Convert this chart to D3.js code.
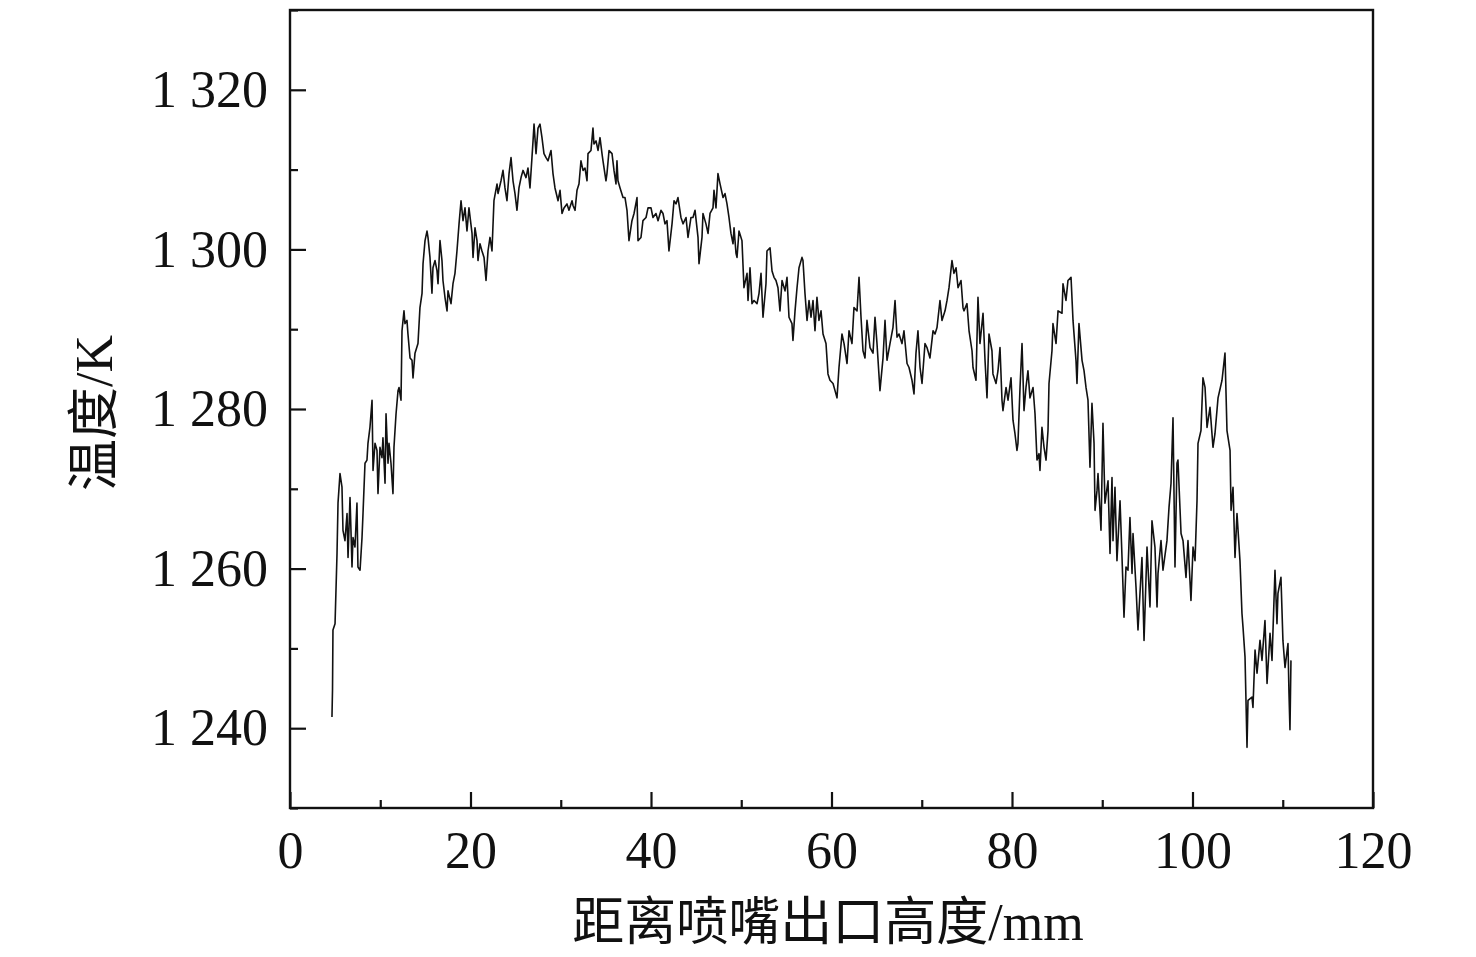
<!DOCTYPE html>
<html>
<head>
<meta charset="utf-8">
<script src="https://cdn.jsdelivr.net/npm/d3@7"></script>
<style>
  body { margin: 0; background: #fff; }
  svg { display: block; }
</style>
</head>
<body>
<svg id="chart"></svg>
<script>
// distance from nozzle exit (mm)
var dist = [
  4.65, 4.71, 4.76, 4.99, 5.21, 5.32, 5.54, 5.76, 5.87, 6.09, 6.32, 6.43, 6.65, 6.87, 6.98, 7.20, 7.42, 7.53, 7.76, 7.98,
  8.09, 8.31, 8.53, 8.64, 8.86, 9.09, 9.20, 9.42, 9.64, 9.75, 9.97, 10.19, 10.30, 10.53, 10.64, 10.86, 10.97, 11.19, 11.41, 11.52,
  11.75, 11.97, 12.08, 12.30, 12.41, 12.63, 12.74, 12.96, 13.07, 13.30, 13.52, 13.63, 13.85, 14.18, 14.40, 14.63, 14.74, 14.96, 15.18, 15.29,
  15.51, 15.73, 15.84, 16.07, 16.29, 16.40, 16.62, 16.84, 16.95, 17.17, 17.40, 17.51, 17.84, 18.06, 18.28, 18.50, 18.73, 18.95, 19.17, 19.39,
  19.61, 19.83, 20.17, 20.28, 20.50, 20.72, 20.83, 21.05, 21.27, 21.50, 21.72, 21.94, 22.16, 22.38, 22.60, 22.94, 23.05, 23.38, 23.60, 23.82,
  24.04, 24.27, 24.49, 24.71, 24.93, 25.15, 25.37, 25.60, 25.82, 26.15, 26.37, 26.59, 26.81, 26.93, 27.04, 27.26, 27.48, 27.70, 27.92, 28.14,
  28.37, 28.59, 28.92, 29.14, 29.36, 29.70, 29.92, 30.14, 30.36, 30.69, 30.91, 31.25, 31.36, 31.58, 31.80, 32.02, 32.24, 32.47, 32.69, 32.91,
  33.02, 33.35, 33.57, 33.68, 33.91, 34.13, 34.35, 34.57, 34.68, 35.01, 35.12, 35.35, 35.68, 35.90, 36.12, 36.23, 36.34, 36.57, 36.90, 37.12,
  37.34, 37.56, 37.89, 38.12, 38.45, 38.56, 38.89, 39.11, 39.45, 39.67, 40.00, 40.22, 40.55, 40.78, 41.11, 41.33, 41.55, 41.77, 41.99, 42.33,
  42.55, 42.77, 42.99, 43.32, 43.55, 43.88, 44.10, 44.43, 44.65, 44.88, 45.21, 45.32, 45.65, 45.76, 46.09, 46.32, 46.54, 46.87, 46.98, 47.20,
  47.42, 47.65, 47.98, 48.20, 48.42, 48.64, 48.86, 49.09, 49.20, 49.42, 49.53, 49.75, 50.08, 50.30, 50.64, 50.75, 50.97, 51.19, 51.41, 51.75,
  51.97, 52.19, 52.41, 52.74, 52.85, 53.19, 53.41, 53.63, 53.85, 54.07, 54.29, 54.52, 54.85, 55.07, 55.29, 55.62, 55.73, 55.96, 56.18, 56.40,
  56.73, 56.84, 57.06, 57.29, 57.51, 57.73, 57.95, 58.17, 58.39, 58.61, 58.84, 59.06, 59.39, 59.61, 59.83, 60.17, 60.39, 60.61, 60.83, 61.16,
  61.39, 61.72, 61.94, 62.27, 62.49, 62.83, 63.05, 63.27, 63.49, 63.71, 63.93, 64.27, 64.60, 64.82, 65.04, 65.37, 65.71, 65.93, 66.15, 66.48,
  66.81, 67.04, 67.26, 67.48, 67.81, 68.03, 68.37, 68.59, 68.92, 69.14, 69.36, 69.58, 69.81, 70.03, 70.36, 70.58, 70.91, 71.25, 71.47, 71.69,
  72.02, 72.24, 72.58, 72.80, 73.02, 73.35, 73.57, 73.80, 74.02, 74.35, 74.57, 74.68, 75.01, 75.24, 75.57, 75.68, 76.01, 76.23, 76.45, 76.79,
  77.01, 77.23, 77.45, 77.78, 77.89, 78.23, 78.45, 78.67, 78.89, 79.00, 79.34, 79.56, 79.89, 80.11, 80.33, 80.55, 80.66, 80.89, 81.11, 81.33,
  81.55, 81.77, 81.99, 82.33, 82.55, 82.77, 82.99, 83.10, 83.32, 83.55, 83.77, 83.99, 84.10, 84.43, 84.54, 84.88, 85.10, 85.54, 85.65, 85.98,
  86.20, 86.54, 86.76, 87.09, 87.20, 87.42, 87.76, 87.98, 88.20, 88.42, 88.64, 88.86, 89.09, 89.20, 89.42, 89.53, 89.86, 90.08, 90.30, 90.64,
  90.86, 91.08, 91.19, 91.41, 91.63, 91.97, 92.19, 92.41, 92.63, 92.85, 93.07, 93.30, 93.41, 93.74, 93.96, 94.18, 94.40, 94.63, 94.96, 95.29,
  95.51, 95.84, 96.07, 96.18, 96.51, 96.73, 97.17, 97.40, 97.62, 97.84, 98.06, 98.28, 98.39, 98.73, 98.95, 99.28, 99.50, 99.83, 100.06, 100.28,
  100.50, 100.61, 100.94, 101.16, 101.39, 101.61, 101.94, 102.27, 102.49, 102.83, 103.27, 103.60, 103.82, 104.16, 104.27, 104.49, 104.71, 104.93, 105.26, 105.48,
  105.60, 105.82, 106.04, 106.15, 106.59, 106.70, 106.93, 107.15, 107.48, 107.70, 108.03, 108.26, 108.59, 108.81, 109.14, 109.36, 109.47, 109.80, 110.02, 110.25,
  110.58, 110.69, 110.80, 110.91
];

// temperature (K)
var temp = [
  1241.4, 1244.8, 1252.3, 1253.1, 1261.9, 1268.2, 1271.9, 1270.2, 1264.8, 1263.5, 1266.9, 1261.4, 1268.9, 1260.2, 1263.9, 1262.7, 1268.2, 1260.2, 1259.8, 1263.9,
  1266.9, 1273.2, 1273.6, 1275.7, 1277.7, 1281.1, 1272.3, 1275.7, 1274.8, 1269.4, 1275.2, 1273.9, 1276.4, 1270.7, 1279.4, 1273.2, 1275.7, 1273.2, 1269.4, 1275.2,
  1279.4, 1282.3, 1282.7, 1281.1, 1289.8, 1292.3, 1290.7, 1291.1, 1289.4, 1286.4, 1286.1, 1283.9, 1287.0, 1288.2, 1292.7, 1294.5, 1298.2, 1301.1, 1302.3, 1301.5,
  1299.0, 1294.5, 1297.7, 1298.6, 1297.3, 1295.7, 1301.1, 1298.6, 1296.1, 1294.0, 1292.3, 1294.8, 1293.2, 1295.7, 1297.0, 1299.8, 1303.2, 1306.1, 1303.6, 1305.2,
  1302.3, 1305.2, 1302.0, 1299.0, 1302.7, 1301.1, 1298.6, 1300.7, 1299.8, 1299.0, 1296.1, 1299.8, 1301.5, 1299.8, 1306.1, 1308.2, 1307.0, 1308.6, 1309.9, 1307.7,
  1306.1, 1309.5, 1311.5, 1308.6, 1307.0, 1304.9, 1307.7, 1309.0, 1309.9, 1309.0, 1310.2, 1307.7, 1311.5, 1313.6, 1315.7, 1312.0, 1315.2, 1315.7, 1314.0, 1312.0,
  1311.5, 1311.1, 1312.4, 1309.5, 1307.7, 1306.1, 1307.4, 1304.5, 1305.2, 1305.7, 1304.9, 1306.1, 1305.5, 1304.9, 1307.4, 1308.2, 1311.1, 1309.9, 1310.2, 1308.6,
  1312.0, 1312.4, 1315.2, 1313.2, 1313.6, 1312.4, 1314.0, 1312.0, 1311.1, 1308.6, 1309.5, 1312.4, 1312.0, 1309.9, 1308.2, 1311.1, 1308.6, 1307.7, 1306.5, 1306.5,
  1304.9, 1301.1, 1303.6, 1304.5, 1306.5, 1301.1, 1301.5, 1303.6, 1304.0, 1305.2, 1305.2, 1304.0, 1304.5, 1303.6, 1304.9, 1304.5, 1303.2, 1303.6, 1299.8, 1303.2,
  1306.1, 1305.7, 1306.5, 1304.0, 1303.2, 1304.0, 1301.5, 1304.0, 1304.0, 1304.9, 1301.5, 1298.2, 1301.5, 1304.5, 1303.2, 1302.0, 1304.5, 1305.2, 1307.4, 1305.2,
  1309.5, 1308.2, 1306.5, 1307.0, 1305.7, 1304.0, 1302.0, 1300.7, 1302.7, 1299.5, 1299.0, 1302.3, 1301.1, 1295.2, 1297.0, 1293.6, 1297.7, 1293.2, 1293.6, 1293.2,
  1294.5, 1297.0, 1291.5, 1295.7, 1299.8, 1300.2, 1297.3, 1296.5, 1296.1, 1295.2, 1292.3, 1296.1, 1294.8, 1296.5, 1291.5, 1290.7, 1288.6, 1292.3, 1295.2, 1297.7,
  1299.0, 1298.6, 1294.5, 1291.1, 1293.6, 1291.5, 1293.6, 1289.8, 1294.0, 1291.1, 1292.3, 1289.4, 1288.2, 1284.4, 1283.6, 1283.2, 1282.3, 1281.4, 1285.2, 1289.4,
  1288.2, 1285.7, 1289.8, 1288.2, 1292.7, 1292.3, 1296.5, 1291.5, 1287.3, 1286.4, 1291.1, 1287.7, 1287.0, 1291.5, 1288.2, 1282.3, 1286.4, 1291.1, 1286.1, 1288.2,
  1290.2, 1293.6, 1289.0, 1289.4, 1288.2, 1289.8, 1285.7, 1285.2, 1283.6, 1281.9, 1287.0, 1289.8, 1285.2, 1283.2, 1288.2, 1287.7, 1286.4, 1289.8, 1289.4, 1290.2,
  1293.6, 1291.1, 1292.3, 1293.6, 1295.2, 1298.6, 1297.0, 1297.7, 1295.2, 1296.1, 1292.7, 1292.3, 1293.2, 1289.8, 1287.3, 1285.2, 1283.6, 1294.0, 1288.2, 1292.0,
  1286.1, 1281.4, 1289.4, 1287.3, 1284.4, 1283.2, 1284.8, 1287.7, 1281.1, 1279.8, 1282.7, 1281.1, 1283.9, 1278.6, 1276.9, 1274.8, 1275.7, 1282.7, 1288.2, 1279.8,
  1282.7, 1284.8, 1281.4, 1282.7, 1279.4, 1273.6, 1274.4, 1272.3, 1277.7, 1275.2, 1273.6, 1277.3, 1283.2, 1287.3, 1290.7, 1288.2, 1292.3, 1292.0, 1295.7, 1293.6,
  1296.1, 1296.5, 1291.1, 1286.1, 1283.2, 1290.7, 1286.1, 1284.8, 1282.7, 1281.1, 1272.7, 1280.7, 1275.7, 1267.3, 1269.8, 1271.9, 1264.8, 1278.2, 1268.2, 1271.0,
  1261.9, 1271.4, 1263.5, 1270.2, 1261.0, 1268.5, 1261.4, 1253.9, 1260.2, 1259.8, 1266.4, 1259.4, 1264.4, 1257.7, 1252.3, 1256.9, 1261.4, 1251.0, 1262.7, 1255.2,
  1266.0, 1262.7, 1255.2, 1259.4, 1263.5, 1259.8, 1263.5, 1267.7, 1270.7, 1278.9, 1260.2, 1273.2, 1273.6, 1264.4, 1263.5, 1258.9, 1263.5, 1256.0, 1262.7, 1261.0,
  1268.5, 1275.7, 1277.3, 1283.9, 1282.7, 1277.7, 1280.2, 1275.2, 1276.9, 1281.4, 1283.6, 1287.0, 1277.3, 1274.8, 1267.3, 1270.2, 1261.4, 1266.9, 1261.0, 1254.4,
  1252.6, 1248.9, 1237.6, 1243.5, 1243.9, 1242.6, 1249.8, 1246.9, 1251.0, 1248.5, 1253.5, 1245.6, 1251.9, 1248.5, 1259.8, 1253.1, 1256.9, 1258.9, 1251.0, 1247.6,
  1250.6, 1244.4, 1239.8, 1248.5
];

var xTicks = [0, 20, 40, 60, 80, 100, 120];
var xMinorTicks = [10, 30, 50, 70, 90, 110];
var yTicks = [1240, 1260, 1280, 1300, 1320];
var yMinorTicks = [1230, 1250, 1270, 1290, 1310, 1330];

var xTitle = "距离喷嘴出口高度/mm";
var yTitle = "温度/K";

var margin = { top: 10, right: 103, bottom: 149, left: 290 },
  width = 1476 - margin.left - margin.right,
  height = 957 - margin.top - margin.bottom;

var svg = d3.select("#chart")
  .attr("width", width + margin.left + margin.right)
  .attr("height", height + margin.top + margin.bottom);

var chart = svg.append("g")
  .attr("transform", "translate(" + margin.left + "," + margin.top + ")");

var x = d3.scaleLinear().domain([0, 120]).range([0, width]);
var y = d3.scaleLinear().domain([1230, 1330]).range([height, 0]);

var numFont = "'Liberation Serif', 'Times New Roman', serif";
var cjkFont = "'Liberation Serif', 'Noto Sans CJK SC', serif";

// temperature curve
var data = dist.map(function (d, i) { return { x: d, y: temp[i] }; });
chart.append("path")
  .datum(data)
  .attr("fill", "none")
  .attr("stroke", "#111")
  .attr("stroke-width", 1.6)
  .attr("stroke-linejoin", "round")
  .attr("d", d3.line()
    .x(function (d) { return x(d.x); })
    .y(function (d) { return y(d.y); }));

// minor ticks (inward)
chart.append("g")
  .attr("transform", "translate(0," + height + ")")
  .call(d3.axisBottom(x).tickValues(xMinorTicks).tickSize(-8).tickFormat(""))
  .call(function (g) { g.select(".domain").remove(); });
chart.append("g")
  .call(d3.axisLeft(y).tickValues(yMinorTicks).tickSize(-8).tickFormat(""))
  .call(function (g) { g.select(".domain").remove(); });

// major axes
chart.append("g")
  .attr("transform", "translate(0," + height + ")")
  .call(d3.axisBottom(x).tickValues(xTicks).tickSize(-16).tickSizeOuter(0).tickPadding(23));

chart.append("g")
  .call(d3.axisLeft(y).tickValues(yTicks).tickSize(-16).tickSizeOuter(0).tickPadding(22)
    .tickFormat(function (d) { return d3.format(",")(d).replace(",", " "); }));

chart.selectAll(".tick line")
  .attr("stroke", "#111")
  .attr("stroke-width", 2.2);

chart.selectAll(".tick text")
  .attr("fill", "#111")
  .style("font-family", numFont)
  .style("font-size", "52px");

chart.selectAll(".domain").remove();

// frame
chart.append("rect")
  .attr("x", 0)
  .attr("y", 0)
  .attr("width", width)
  .attr("height", height)
  .attr("fill", "none")
  .attr("stroke", "#111")
  .attr("stroke-width", 2.4);

// titles
svg.append("text")
  .attr("x", 828)
  .attr("y", 940)
  .attr("text-anchor", "middle")
  .attr("fill", "#111")
  .style("font-family", cjkFont)
  .style("font-size", "52px")
  .text(xTitle);

svg.append("text")
  .attr("transform", "translate(112,413) rotate(-90)")
  .attr("text-anchor", "middle")
  .attr("fill", "#111")
  .style("font-family", cjkFont)
  .style("font-size", "52px")
  .text(yTitle);
</script>
</body>
</html>
